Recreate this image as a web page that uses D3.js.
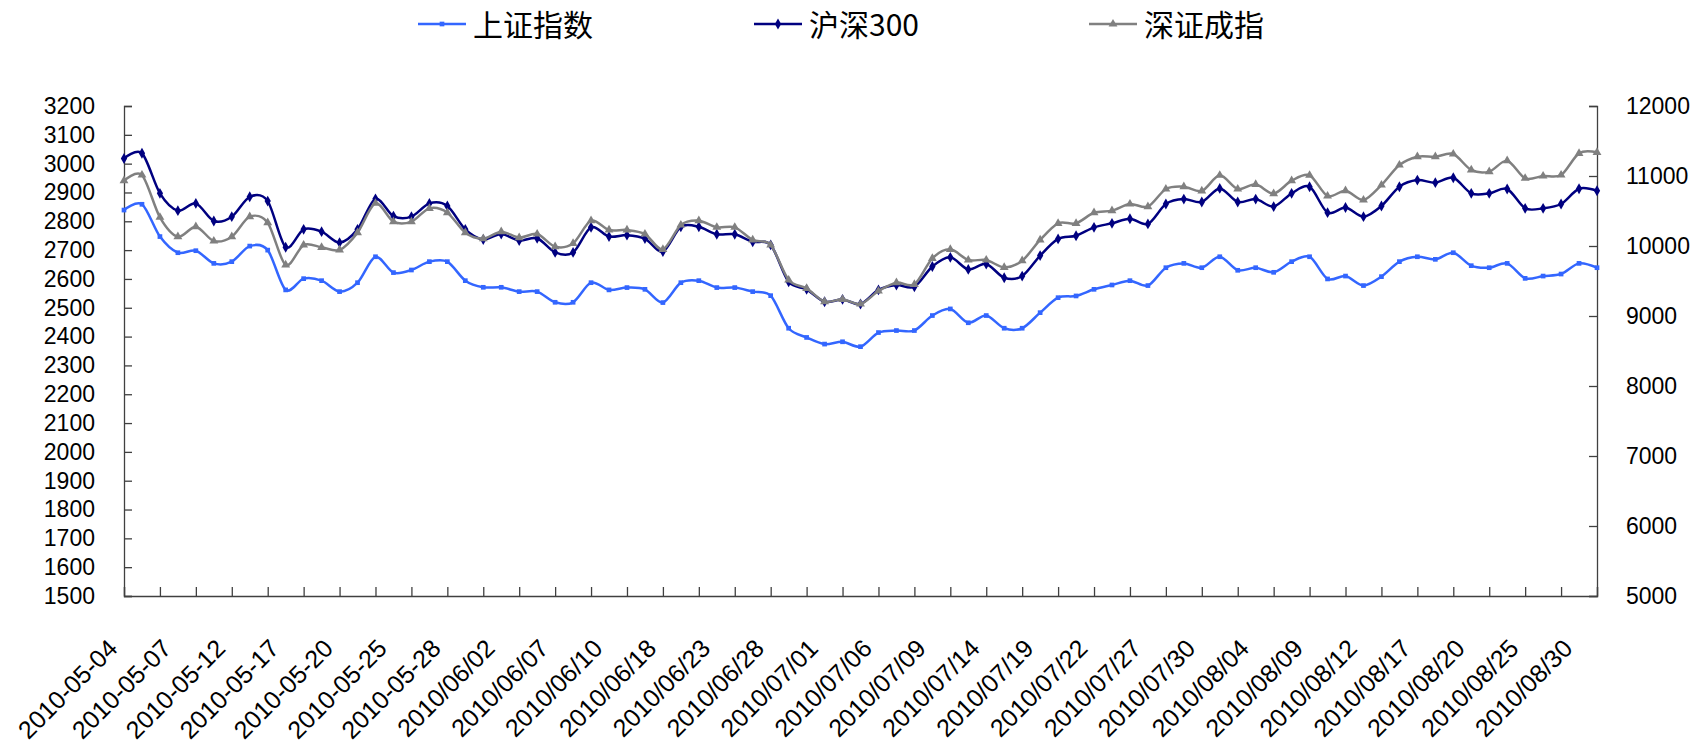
<!DOCTYPE html>
<html>
<head>
<meta charset="utf-8">
<script src="https://cdn.jsdelivr.net/npm/d3@7"></script>
<style>
  body { margin: 0; background: #fff; }
  text { font-family: "Liberation Sans", Arial, sans-serif; fill: #000; }
  .legend text { font-family: "Noto Sans CJK SC", "Liberation Sans", sans-serif; }
</style>
</head>
<body>
<div class="grafico"></div>
<script>
// trading days, May - Aug 2010
var dates = [
  "2010-05-04", "2010-05-05", "2010-05-06", "2010-05-07", "2010-05-10", "2010-05-11", "2010-05-12",
  "2010-05-13", "2010-05-14", "2010-05-17", "2010-05-18", "2010-05-19", "2010-05-20", "2010-05-21",
  "2010-05-24", "2010-05-25", "2010-05-26", "2010-05-27", "2010-05-28", "2010-05-31",
  "2010/06/01", "2010/06/02", "2010/06/03", "2010/06/04", "2010/06/07", "2010/06/08", "2010/06/09",
  "2010/06/10", "2010/06/11", "2010/06/17", "2010/06/18", "2010/06/21", "2010/06/22", "2010/06/23",
  "2010/06/24", "2010/06/25", "2010/06/28", "2010/06/29", "2010/06/30",
  "2010/07/01", "2010/07/02", "2010/07/05", "2010/07/06", "2010/07/07", "2010/07/08", "2010/07/09",
  "2010/07/12", "2010/07/13", "2010/07/14", "2010/07/15", "2010/07/16", "2010/07/19", "2010/07/20",
  "2010/07/21", "2010/07/22", "2010/07/23", "2010/07/26", "2010/07/27", "2010/07/28", "2010/07/29",
  "2010/07/30",
  "2010/08/02", "2010/08/03", "2010/08/04", "2010/08/05", "2010/08/06", "2010/08/09", "2010/08/10",
  "2010/08/11", "2010/08/12", "2010/08/13", "2010/08/16", "2010/08/17", "2010/08/18", "2010/08/19",
  "2010/08/20", "2010/08/23", "2010/08/24", "2010/08/25", "2010/08/26", "2010/08/27", "2010/08/30",
  "2010/08/31"
];

// 上证指数 (left axis)
var shIndex = [
  2839, 2859, 2747, 2691, 2698, 2654, 2660, 2714, 2700, 2562,
  2601, 2594, 2556, 2587, 2677, 2622, 2631, 2660, 2660, 2594,
  2571, 2571, 2556, 2556, 2519, 2519, 2587, 2562, 2570, 2564,
  2518, 2587, 2594, 2570, 2570, 2556, 2542, 2429, 2397, 2374,
  2382, 2365, 2414, 2421, 2421, 2473, 2496, 2448, 2473, 2429,
  2429, 2483, 2535, 2541, 2564, 2579, 2594, 2577, 2639, 2654,
  2639, 2677, 2630, 2639, 2623, 2660, 2677, 2600, 2610, 2577,
  2608, 2660, 2677, 2668, 2691, 2646, 2639, 2654, 2602, 2610,
  2617, 2654, 2639
];

// 沪深300 (left axis)
var hs300 = [
  3018, 3036, 2897, 2837, 2862, 2801, 2816, 2885, 2870, 2710,
  2772, 2764, 2726, 2772, 2878, 2818, 2816, 2862, 2853, 2772,
  2737, 2756, 2733, 2741, 2692, 2692, 2779, 2747, 2752, 2740,
  2695, 2781, 2781, 2755, 2755, 2729, 2718, 2590, 2564, 2521,
  2529, 2513, 2562, 2579, 2573, 2643, 2675, 2633, 2652, 2604,
  2610, 2681, 2739, 2750, 2779, 2793, 2809, 2791, 2860, 2877,
  2867, 2914, 2867, 2877, 2851, 2897, 2920, 2830, 2848, 2816,
  2853, 2920, 2943, 2934, 2951, 2897, 2897, 2912, 2845, 2845,
  2860, 2913, 2906
];

// 深证成指 (right axis)
var szIndex = [
  10933, 11014, 10410, 10133, 10276, 10071, 10133, 10419, 10333, 9729,
  10014, 9981, 9943, 10190, 10610, 10348, 10348, 10538, 10476, 10190,
  10105, 10205, 10119, 10171, 9990, 10038, 10362, 10229, 10229, 10171,
  9952, 10300, 10362, 10267, 10267, 10086, 10014, 9514, 9395, 9205,
  9238, 9171, 9357, 9476, 9452, 9824, 9952, 9800, 9800, 9695,
  9790, 10086, 10324, 10324, 10476, 10505, 10600, 10562, 10814, 10848,
  10786, 11010, 10814, 10881, 10748, 10933, 11010, 10714, 10790, 10657,
  10871, 11157, 11276, 11276, 11314, 11086, 11062, 11219, 10967, 11000,
  11014, 11324, 11338
];

var leftTicks = d3.range(1500, 3201, 100);
var rightTicks = d3.range(5000, 12001, 1000);

var margin = { top: 106, right: 107, bottom: 147, left: 124 };
var width = 1704 - margin.left - margin.right,
  height = 743 - margin.top - margin.bottom;
var axisColor = "#404040";

var svg = d3.select(".grafico").append("svg")
  .attr("width", 1704)
  .attr("height", 743);

var g = svg.append("g")
  .attr("transform", "translate(" + margin.left + "," + margin.top + ")");

var x = d3.scaleLinear().domain([0, dates.length - 1]).range([0, width]);
var yL = d3.scaleLinear().domain([1500, 3200]).range([height, 0]);
var yR = d3.scaleLinear().domain([5000, 12000]).range([height, 0]);

// left axis
var axL = g.append("g")
  .call(d3.axisLeft(yL).tickValues(leftTicks).tickSize(-8).tickPadding(29).tickFormat(d3.format("d")));
// right axis
var axR = g.append("g")
  .attr("transform", "translate(" + width + ",0)")
  .call(d3.axisRight(yR).tickValues(rightTicks).tickSize(-8).tickPadding(29).tickFormat(d3.format("d")));
// bottom axis: tick every 2 days, no default labels
var axB = g.append("g")
  .attr("transform", "translate(0," + height + ")")
  .call(d3.axisBottom(x).tickValues(d3.range(0, dates.length, 2)).tickSize(-9).tickFormat(""));

[axL, axR, axB].forEach(function (a) {
  a.select(".domain").attr("stroke", axisColor).attr("stroke-width", 1.3);
  a.selectAll(".tick line").attr("stroke", axisColor).attr("stroke-width", 1.3);
  a.selectAll(".tick text").attr("font-size", 23).attr("fill", "#000")
    .attr("font-family", "Liberation Sans, Arial, sans-serif");
});

// rotated date labels, every 3rd day
g.append("g").selectAll(".xlab")
  .data(d3.range(0, dates.length, 3))
  .enter().append("text")
  .attr("class", "xlab")
  .attr("transform", function (i) {
    return "translate(" + (x(i) - 5) + "," + (height + 54) + ") rotate(-45)";
  })
  .attr("text-anchor", "end")
  .attr("font-size", 25)
  .text(function (i) { return dates[i]; });

var series = [
  { name: "上证指数", values: shIndex, y: yL, color: "#3366ff", marker: "square", size: 22 },
  { name: "沪深300", values: hs300, y: yL, color: "#000080", marker: "diamond", size: 34 },
  { name: "深证成指", values: szIndex, y: yR, color: "#808080", marker: "triangle", size: 34 }
];

var symbols = { square: d3.symbolSquare, diamond: d3.symbolDiamond, triangle: d3.symbolTriangle };

series.forEach(function (s) {
  var line = d3.line()
    .x(function (d, i) { return x(i); })
    .y(function (d) { return s.y(d); })
    .curve(d3.curveCardinal.tension(0.1));

  g.append("path")
    .datum(s.values)
    .attr("fill", "none")
    .attr("stroke", s.color)
    .attr("stroke-width", 2.5)
    .attr("d", line);

  g.append("g").selectAll("path")
    .data(s.values)
    .enter().append("path")
    .attr("transform", function (d, i) { return "translate(" + x(i) + "," + s.y(d) + ")"; })
    .attr("d", d3.symbol().type(symbols[s.marker]).size(s.size))
    .attr("fill", s.color);
});

// legend
var legendX = [418, 754, 1089];
var legend = svg.append("g").attr("class", "legend");
series.forEach(function (s, k) {
  var lg = legend.append("g").attr("transform", "translate(" + legendX[k] + ",24)");
  lg.append("line")
    .attr("x1", 0).attr("x2", 48)
    .attr("stroke", s.color).attr("stroke-width", 2.3);
  lg.append("path")
    .attr("transform", "translate(24,0)")
    .attr("d", d3.symbol().type(symbols[s.marker]).size(s.size))
    .attr("fill", s.color);
  lg.append("text")
    .attr("x", 55)
    .attr("y", 12)
    .attr("font-size", 30)
    .attr("fill", "#111")
    .text(s.name);
});
</script>
</body>
</html>
